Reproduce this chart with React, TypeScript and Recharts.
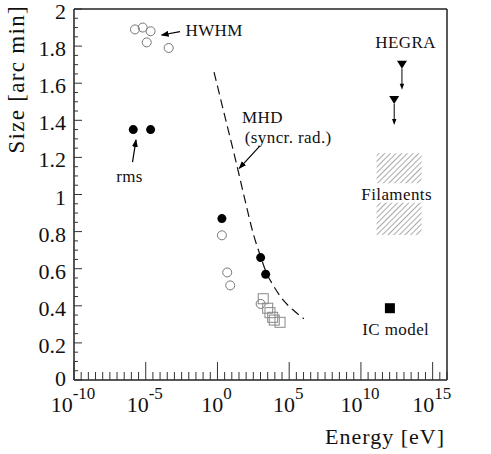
import React from 'react';
import { ComposedChart, XAxis, YAxis, Scatter, Line, ReferenceArea, ReferenceLine } from 'recharts';

// x values are log10(E / eV), y values are angular size in arc min
const hwhmTop = [
  { x: -5.75, y: 1.89 },
  { x: -5.21, y: 1.9 },
  { x: -4.66, y: 1.88 },
  { x: -4.93, y: 1.82 },
  { x: -3.4, y: 1.79 },
];
const hwhmMid = [
  { x: 0.31, y: 0.78 },
  { x: 0.68, y: 0.58 },
  { x: 0.89, y: 0.51 },
  { x: 3.01, y: 0.41 },
];
const rmsPoints = [
  { x: -5.87, y: 1.35 },
  { x: -4.66, y: 1.35 },
  { x: 0.31, y: 0.87 },
  { x: 3.01, y: 0.66 },
  { x: 3.36, y: 0.57 },
];
const openSquares = [
  { x: 3.19, y: 0.438 },
  { x: 3.5, y: 0.387 },
  { x: 3.66, y: 0.363 },
  { x: 3.85, y: 0.338 },
  { x: 3.96, y: 0.323 },
  { x: 4.36, y: 0.311 },
];
const mhdCurve = [
  { x: -0.24, y: 1.66 },
  { x: 0.52, y: 1.42 },
  { x: 1.22, y: 1.2 },
  { x: 1.92, y: 0.97 },
  { x: 2.49, y: 0.79 },
  { x: 3.01, y: 0.665 },
  { x: 3.43, y: 0.575 },
  { x: 3.89, y: 0.51 },
  { x: 4.59, y: 0.43 },
  { x: 5.28, y: 0.377 },
  { x: 6.02, y: 0.33 },
];
const hegraLimits = [
  { x: 12.86, y: 1.7 },
  { x: 12.32, y: 1.51 },
];
const icModel = [{ x: 12.02, y: 0.387 }];
const filamentBands = [
  { x1: 11.09, x2: 14.23, y1: 1.06, y2: 1.222 },
  { x1: 11.09, x2: 14.23, y1: 0.782, y2: 0.956 },
];
const notes = [
  { x: -0.23, y: 1.854, text: 'HWHM' },
  { x: -6.13, y: 1.069, text: 'rms' },
  { x: 3.14, y: 1.385, text: 'MHD' },
  { x: 4.93, y: 1.28, text: '(syncr. rad.)' },
  { x: 13.11, y: 1.788, text: 'HEGRA' },
  { x: 12.49, y: 0.97, text: 'Filaments' },
  { x: 12.43, y: 0.243, text: 'IC model' },
];
const arrows = [
  { from: { x: -2.61, y: 1.878 }, to: { x: -3.89, y: 1.86 } },
  { from: { x: -5.92, y: 1.175 }, to: { x: -5.68, y: 1.294 } },
  { from: { x: 2.96, y: 1.262 }, to: { x: 1.52, y: 1.141 } },
];

const xMajor = [-10, -5, 0, 5, 10, 15];
const yMajor = [0, 0.2, 0.4, 0.6, 0.8, 1, 1.2, 1.4, 1.6, 1.8, 2];
const xTicks: number[] = [];
for (let i = 0; i <= 52; i++) xTicks.push(-10 + i * 0.5);
const yTicks: number[] = [];
for (let i = 0; i <= 40; i++) yTicks.push(Math.round(i * 5) / 100);

const serif = '"Liberation Serif", "Times New Roman", serif';

const XTick = (props: any) => {
  const { x, y, payload } = props;
  const v = payload.value;
  const major = xMajor.includes(v);
  return (
    <g>
      <line x1={x} x2={x} y1={y} y2={y - (major ? 18 : 8)} stroke="#333" strokeWidth={1} />
      {major && (
        <text x={x - 1} y={y + 32} textAnchor="middle" fontFamily={serif} fontSize={22} fill="#111">
          10
          <tspan dy={-13} fontSize={17}>{v}</tspan>
        </text>
      )}
    </g>
  );
};

const YTick = (props: any) => {
  const { x, y, payload } = props;
  const v = payload.value;
  const major = yMajor.some((m) => Math.abs(m - v) < 1e-6);
  return (
    <g>
      <line x1={x} x2={x + (major ? 8 : 4)} y1={y} y2={y} stroke="#333" strokeWidth={1} />
      {major && (
        <text x={x - 8} y={y + (v === 0 ? 6 : 10)} textAnchor="end" fontFamily={serif} fontSize={22} fill="#111">
          {String(Number(v.toFixed(1)))}
        </text>
      )}
    </g>
  );
};

const OpenCircle = (p: any) => <circle cx={p.cx} cy={p.cy} r={4.5} fill="none" stroke="#777" strokeWidth={1} />;
const FilledCircle = (p: any) => <circle cx={p.cx} cy={p.cy} r={4.5} fill="#000" />;
const OpenSquare = (p: any) => (
  <rect x={p.cx - 5} y={p.cy - 5} width={10} height={10} fill="none" stroke="#888" strokeWidth={1} />
);
const FilledSquare = (p: any) => <rect x={p.cx - 5} y={p.cy - 5} width={10} height={10} fill="#000" />;
const UpperLimit = (p: any) => (
  <g>
    <path d={`M${p.cx - 5},${p.cy - 4} L${p.cx + 5},${p.cy - 4} L${p.cx},${p.cy + 4} Z`} fill="#000" />
    <line x1={p.cx} x2={p.cx} y1={p.cy + 4} y2={p.cy + 21} stroke="#000" strokeWidth={1} />
    <path d={`M${p.cx - 2.2},${p.cy + 19} L${p.cx + 2.2},${p.cy + 19} L${p.cx},${p.cy + 25} Z`} fill="#000" />
  </g>
);
const NoteText = (p: any) => (
  <text x={p.cx} y={p.cy} textAnchor="middle" fontFamily={serif} fontSize={17} letterSpacing={0.4} fill="#111">
    {p.payload.text}
  </text>
);

export default function App() {
  return (
    <div style={{ position: 'absolute', left: 0, top: 0, background: '#fff' }}>
      <ComposedChart width={491} height={454} margin={{ top: 9, right: 44, bottom: 0, left: 0 }}>
        <defs>
          <pattern id="hatch" width={4} height={4} patternUnits="userSpaceOnUse" patternTransform="rotate(45)">
            <line x1={0} y1={0} x2={0} y2={4} stroke="#555" strokeWidth={1} />
          </pattern>
          <marker id="arrowHead" markerWidth={8} markerHeight={6} refX={7} refY={3} orient="auto" markerUnits="userSpaceOnUse">
            <path d="M0,0 L8,3 L0,6 Z" fill="#000" />
          </marker>
        </defs>
        <XAxis
          type="number"
          dataKey="x"
          domain={[-10, 16]}
          ticks={xTicks}
          interval={0}
          tickSize={0}
          tickMargin={0}
          tickLine={false}
          tick={<XTick />}
          height={74}
          axisLine={{ stroke: '#222', strokeWidth: 1.5 }}
          allowDataOverflow
          label={{
            content: (lp: any) => {
              const vb = lp.viewBox;
              return (
                <text x={vb.x + vb.width - 2} y={vb.y + 64} textAnchor="end" fontFamily={serif} fontSize={22} letterSpacing={1} fill="#111">
                  Energy [eV]
                </text>
              );
            },
          }}
        />
        <YAxis
          type="number"
          dataKey="y"
          domain={[0, 2]}
          ticks={yTicks}
          interval={0}
          tickSize={0}
          tickMargin={0}
          tickLine={false}
          tick={<YTick />}
          width={74}
          axisLine={{ stroke: '#222', strokeWidth: 1.5 }}
          allowDataOverflow
          label={{
            content: (lp: any) => {
              const vb = lp.viewBox;
              const tx = vb.x + 24;
              const ty = 5;
              return (
                <text x={tx} y={ty} transform={`rotate(-90 ${tx} ${ty})`} textAnchor="end" fontFamily={serif} fontSize={23} letterSpacing={1.3} fill="#111">
                  Size [arc min]
                </text>
              );
            },
          }}
        />
        <ReferenceLine y={2} stroke="#222" strokeWidth={1.5} />
        <ReferenceLine x={16} stroke="#222" strokeWidth={1.5} />
        {filamentBands.map((b, i) => (
          <ReferenceArea key={i} x1={b.x1} x2={b.x2} y1={b.y1} y2={b.y2} fill="url(#hatch)" fillOpacity={1} stroke="none" />
        ))}
        <Line
          data={mhdCurve}
          dataKey="y"
          type="monotone"
          stroke="#111"
          strokeWidth={1.2}
          strokeDasharray="9 5"
          dot={false}
          activeDot={false}
          isAnimationActive={false}
        />
        {arrows.map((a, i) => (
          <ReferenceLine key={i} segment={[a.from, a.to]} stroke="#000" strokeWidth={1.2} markerEnd="url(#arrowHead)" />
        ))}
        <Scatter data={hwhmTop} dataKey="y" shape={<OpenCircle />} isAnimationActive={false} />
        <Scatter data={hwhmMid} dataKey="y" shape={<OpenCircle />} isAnimationActive={false} />
        <Scatter data={openSquares} dataKey="y" shape={<OpenSquare />} isAnimationActive={false} />
        <Scatter data={rmsPoints} dataKey="y" shape={<FilledCircle />} isAnimationActive={false} />
        <Scatter data={hegraLimits} dataKey="y" shape={<UpperLimit />} isAnimationActive={false} />
        <Scatter data={icModel} dataKey="y" shape={<FilledSquare />} isAnimationActive={false} />
        <Scatter data={notes} dataKey="y" shape={<NoteText />} isAnimationActive={false} />
      </ComposedChart>
    </div>
  );
}
